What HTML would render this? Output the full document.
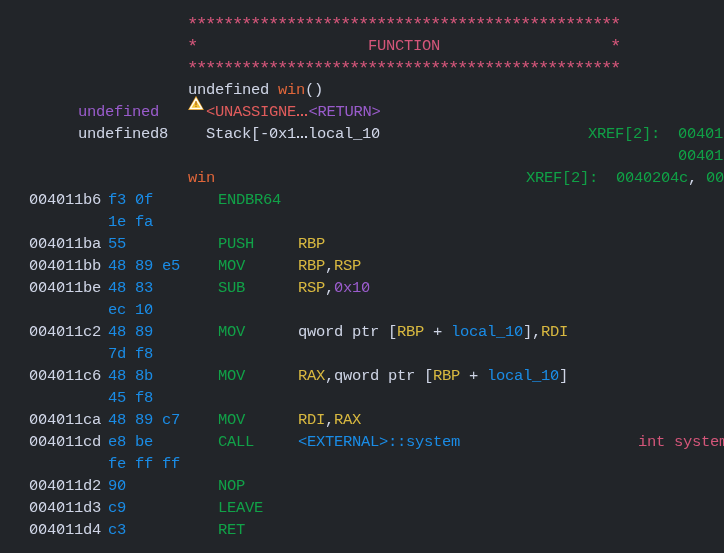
<!DOCTYPE html><html><head><meta charset="utf-8"><style>
html,body{margin:0;padding:0;}
body{width:724px;height:553px;overflow:hidden;background:#222529;position:relative;
font-family:"Liberation Mono",monospace;font-size:15.5px;letter-spacing:-0.300px;line-height:22px;white-space:pre;}
.r{position:absolute;left:0;width:724px;height:22px;will-change:transform;}
.r span{position:absolute;top:0;}
.fg{color:#cfd5e6}
.cmt{color:#d4567a}
.fn{color:#e0663a}
.pur{color:#9a5ccc}
.red{color:#e05c5c}
.byt{color:#1a8ce6}
.mne{color:#11a248}
.reg{color:#d8b840}
.sca{color:#9a5ccc}
.lbl{color:#1a8ce6}
.xr{color:#10a046}

.z{font-style:normal;display:inline-block;clip-path:ellipse(3.9px 5.7px at 4.6px 10.1px);}
.st{position:absolute;font-size:19px;line-height:40px;letter-spacing:-2.4px;will-change:transform;}
.warn{position:absolute;left:188px;top:96px;width:16px;height:14px;}
</style></head><body>
<div class="r" style="top:34.77px">
<span class="cmt" style="left:368px">FUNCTION</span>
</div>
<div class="r" style="top:78.77px">
<span class="fg" style="left:188px">undefined </span>
<span class="fn" style="left:278px">win</span>
<span class="fg" style="left:305px">()</span>
</div>
<div class="r" style="top:100.77px">
<span class="pur" style="left:78px">undefined</span>
<span class="red" style="left:206px">&lt;UNASSIGNE</span>
<span class="pur" style="left:308.5px">&lt;RETURN&gt;</span>
</div>
<div class="r" style="top:122.77px">
<span class="fg" style="left:78px">undefined8</span>
<span class="fg" style="left:206px">Stack[-<i class="z">Ø</i>x1</span>
<span class="fg" style="left:308px">local_1<i class="z">Ø</i></span>
<span class="xr" style="left:588px">XREF[2]:</span>
<span class="xr" style="left:678px"><i class="z">Ø</i><i class="z">Ø</i>4<i class="z">Ø</i>1</span>
</div>
<div class="r" style="top:144.77px">
<span class="xr" style="left:678px"><i class="z">Ø</i><i class="z">Ø</i>4<i class="z">Ø</i>1</span>
</div>
<div class="r" style="top:166.77px">
<span class="fn" style="left:188px">win</span>
<span class="xr" style="left:526px">XREF[2]:</span>
<span class="xr" style="left:616px"><i class="z">Ø</i><i class="z">Ø</i>4<i class="z">Ø</i>2<i class="z">Ø</i>4c</span>
<span class="fg" style="left:688px">,</span>
<span class="xr" style="left:706px"><i class="z">Ø</i><i class="z">Ø</i></span>
</div>
<div class="r" style="top:188.77px">
<span class="fg" style="left:29px"><i class="z">Ø</i><i class="z">Ø</i>4<i class="z">Ø</i>11b6</span>
<span class="byt" style="left:108px">f3 <i class="z">Ø</i>f</span>
<span class="mne" style="left:218px">ENDBR64</span>
</div>
<div class="r" style="top:210.77px">
<span class="byt" style="left:108px">1e fa</span>
</div>
<div class="r" style="top:232.77px">
<span class="fg" style="left:29px"><i class="z">Ø</i><i class="z">Ø</i>4<i class="z">Ø</i>11ba</span>
<span class="byt" style="left:108px">55</span>
<span class="mne" style="left:218px">PUSH</span>
<span class="reg" style="left:298px">RBP</span>
</div>
<div class="r" style="top:254.77px">
<span class="fg" style="left:29px"><i class="z">Ø</i><i class="z">Ø</i>4<i class="z">Ø</i>11bb</span>
<span class="byt" style="left:108px">48 89 e5</span>
<span class="mne" style="left:218px">MOV</span>
<span class="reg" style="left:298px">RBP</span>
<span class="fg" style="left:325px">,</span>
<span class="reg" style="left:334px">RSP</span>
</div>
<div class="r" style="top:276.77px">
<span class="fg" style="left:29px"><i class="z">Ø</i><i class="z">Ø</i>4<i class="z">Ø</i>11be</span>
<span class="byt" style="left:108px">48 83</span>
<span class="mne" style="left:218px">SUB</span>
<span class="reg" style="left:298px">RSP</span>
<span class="fg" style="left:325px">,</span>
<span class="sca" style="left:334px"><i class="z">Ø</i>x1<i class="z">Ø</i></span>
</div>
<div class="r" style="top:298.77px">
<span class="byt" style="left:108px">ec 1<i class="z">Ø</i></span>
</div>
<div class="r" style="top:320.77px">
<span class="fg" style="left:29px"><i class="z">Ø</i><i class="z">Ø</i>4<i class="z">Ø</i>11c2</span>
<span class="byt" style="left:108px">48 89</span>
<span class="mne" style="left:218px">MOV</span>
<span class="fg" style="left:298px">qword ptr [</span>
<span class="reg" style="left:397px">RBP</span>
<span class="fg" style="left:424px"> + </span>
<span class="lbl" style="left:451px">local_1<i class="z">Ø</i></span>
<span class="fg" style="left:523px">],</span>
<span class="reg" style="left:541px">RDI</span>
</div>
<div class="r" style="top:342.77px">
<span class="byt" style="left:108px">7d f8</span>
</div>
<div class="r" style="top:364.77px">
<span class="fg" style="left:29px"><i class="z">Ø</i><i class="z">Ø</i>4<i class="z">Ø</i>11c6</span>
<span class="byt" style="left:108px">48 8b</span>
<span class="mne" style="left:218px">MOV</span>
<span class="reg" style="left:298px">RAX</span>
<span class="fg" style="left:325px">,qword ptr [</span>
<span class="reg" style="left:433px">RBP</span>
<span class="fg" style="left:460px"> + </span>
<span class="lbl" style="left:487px">local_1<i class="z">Ø</i></span>
<span class="fg" style="left:559px">]</span>
</div>
<div class="r" style="top:386.77px">
<span class="byt" style="left:108px">45 f8</span>
</div>
<div class="r" style="top:408.77px">
<span class="fg" style="left:29px"><i class="z">Ø</i><i class="z">Ø</i>4<i class="z">Ø</i>11ca</span>
<span class="byt" style="left:108px">48 89 c7</span>
<span class="mne" style="left:218px">MOV</span>
<span class="reg" style="left:298px">RDI</span>
<span class="fg" style="left:325px">,</span>
<span class="reg" style="left:334px">RAX</span>
</div>
<div class="r" style="top:430.77px">
<span class="fg" style="left:29px"><i class="z">Ø</i><i class="z">Ø</i>4<i class="z">Ø</i>11cd</span>
<span class="byt" style="left:108px">e8 be</span>
<span class="mne" style="left:218px">CALL</span>
<span class="lbl" style="left:298px">&lt;EXTERNAL&gt;::system</span>
<span class="cmt" style="left:638px">int system</span>
</div>
<div class="r" style="top:452.77px">
<span class="byt" style="left:108px">fe ff ff</span>
</div>
<div class="r" style="top:474.77px">
<span class="fg" style="left:29px"><i class="z">Ø</i><i class="z">Ø</i>4<i class="z">Ø</i>11d2</span>
<span class="byt" style="left:108px">9<i class="z">Ø</i></span>
<span class="mne" style="left:218px">NOP</span>
</div>
<div class="r" style="top:496.77px">
<span class="fg" style="left:29px"><i class="z">Ø</i><i class="z">Ø</i>4<i class="z">Ø</i>11d3</span>
<span class="byt" style="left:108px">c9</span>
<span class="mne" style="left:218px">LEAVE</span>
</div>
<div class="r" style="top:518.77px">
<span class="fg" style="left:29px"><i class="z">Ø</i><i class="z">Ø</i>4<i class="z">Ø</i>11d4</span>
<span class="byt" style="left:108px">c3</span>
<span class="mne" style="left:218px">RET</span>
</div>
<svg class="warn" viewBox="0 0 16 14"><path d="M8 -0.2 L16 14 L0 14 Z" fill="#dc9418"/><path d="M8 1.2 L15 13.2 L1 13.2 Z" fill="#fffdf0"/><path d="M8 4.4 L12.5 11.8 L3.5 11.8 Z" fill="#f2c43a"/><rect x="7.2" y="5.3" width="1.6" height="3.9" rx="0.5" fill="#c27a1a"/><rect x="7.2" y="9.9" width="1.6" height="1.2" fill="#c27a1a"/></svg>
<div style="position:absolute;left:297px;top:114px;width:2px;height:2px;background:#e05c5c"></div>
<div style="position:absolute;left:301px;top:114px;width:2px;height:2px;background:#e05c5c"></div>
<div style="position:absolute;left:305px;top:114px;width:2px;height:2px;background:#e05c5c"></div>
<div style="position:absolute;left:297px;top:136px;width:2px;height:2px;background:#cfd5e6"></div>
<div style="position:absolute;left:301px;top:136px;width:2px;height:2px;background:#cfd5e6"></div>
<div style="position:absolute;left:305px;top:136px;width:2px;height:2px;background:#cfd5e6"></div>
<div class="st cmt" style="left:187.25px;top:5.06px">************************************************</div>
<div class="st cmt" style="left:187.25px;top:27.06px">*</div>
<div class="st cmt" style="left:610.25px;top:27.06px">*</div>
<div class="st cmt" style="left:187.25px;top:49.06px">************************************************</div>
</body></html>
